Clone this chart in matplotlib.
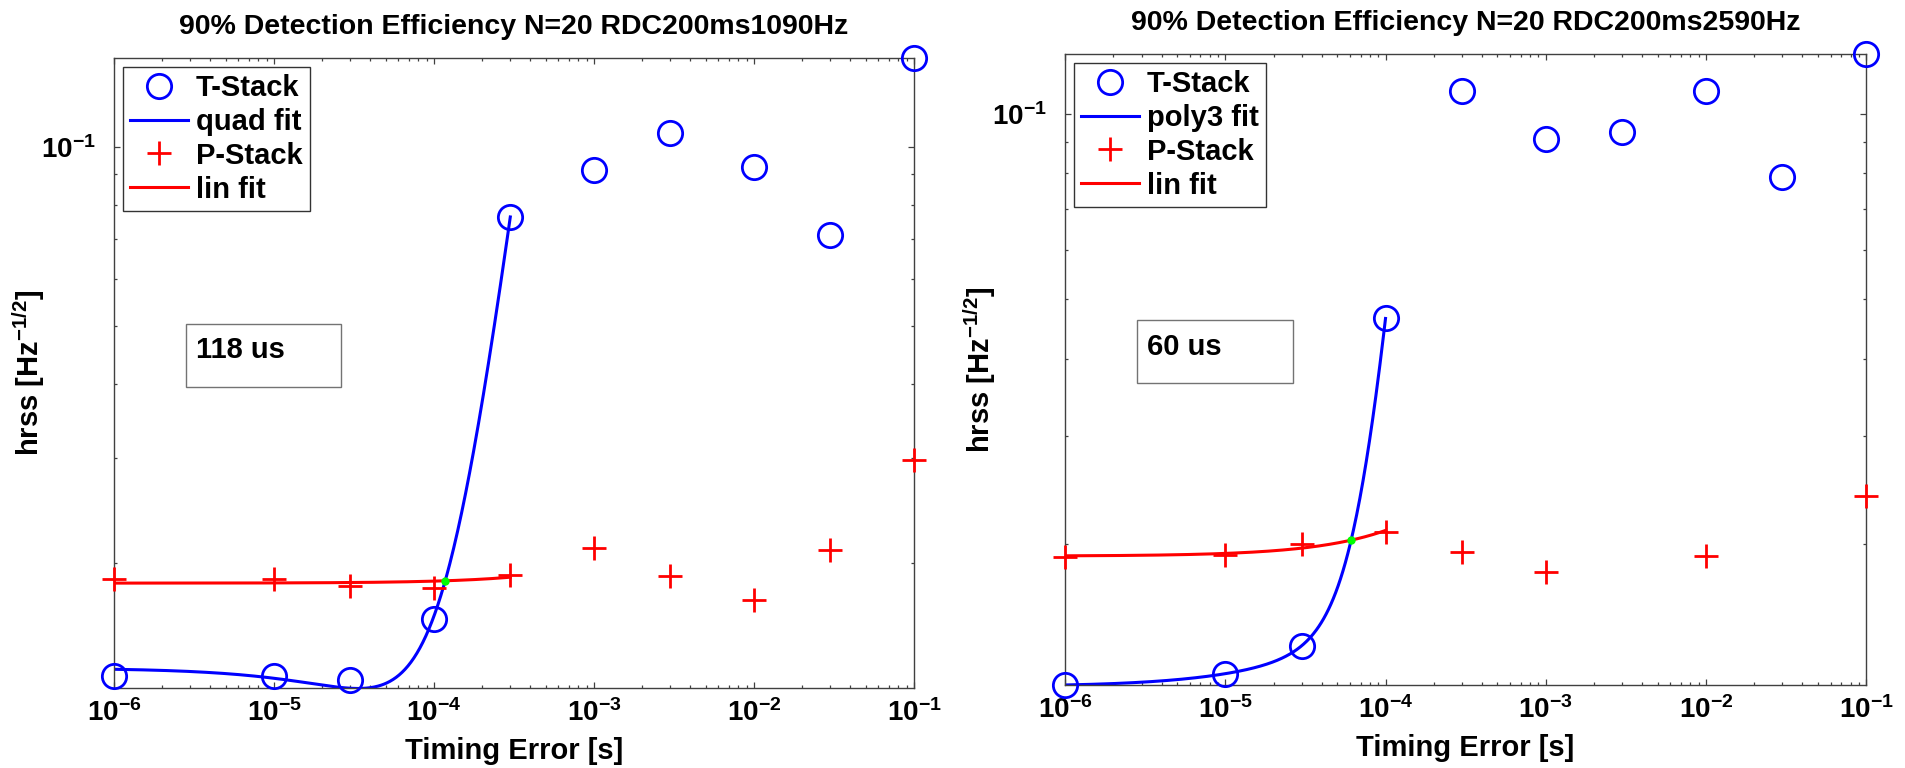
import numpy as np
import matplotlib
matplotlib.use("Agg")
import matplotlib.pyplot as plt
from matplotlib.ticker import LogLocator, NullFormatter
from matplotlib.patches import Rectangle
from numpy.polynomial import Polynomial

plt.rcParams['font.family'] = ['Liberation Sans', 'DejaVu Sans']
plt.rcParams['font.weight'] = 'bold'
plt.rcParams['mathtext.fontset'] = 'custom'
plt.rcParams['mathtext.rm'] = 'Liberation Sans:bold'
plt.rcParams['mathtext.it'] = 'Liberation Sans:bold'
plt.rcParams['mathtext.bf'] = 'Liberation Sans:bold'

# Data
timing_err = [1e-6, 1e-5, 3e-5, 1e-4, 3e-4, 1e-3, 3e-3, 1e-2, 3e-2, 1e-1]

t_stack_1090 = [0.01294, 0.01294, 0.01274, 0.01615, 0.0763, 0.0913, 0.1054, 0.0924, 0.0711, 0.141]
p_stack_1090 = [0.01883, 0.01883, 0.01830, 0.01820, 0.01914, 0.02125, 0.01904, 0.01735, 0.02105, 0.02988]

t_stack_2590 = [0.01183, 0.01234, 0.01370, 0.04653, 0.1090, 0.0911, 0.0933, 0.1090, 0.0788, 0.1250]
p_stack_2590 = [0.01905, 0.01922, 0.02005, 0.02099, 0.01943, 0.01803, np.nan, 0.01915, np.nan, 0.02394]

titles = ["90% Detection Efficiency N=20 RDC200ms1090Hz",
          "90% Detection Efficiency N=20 RDC200ms2590Hz"]
fit_labels = ["quad fit", "poly3 fit"]
fit_degrees = [2, 3]
fit_points = [5, 4]
cross_texts = ["118 us", "60 us"]
ylims = [(0.01236, 0.141), (0.01183, 0.125)]

x_ticks = [1e-6, 1e-5, 1e-4, 1e-3, 1e-2, 1e-1]
x_ticklabels = ['$10^{-6}$', '$10^{-5}$', '$10^{-4}$', '$10^{-3}$', '$10^{-2}$', '$10^{-1}$']

fig = plt.figure(figsize=(19.06, 7.68), dpi=100)
positions = [[0.0598, 0.1042, 0.4197, 0.8203],
             [0.5588, 0.1081, 0.4203, 0.8216]]

panels = [(t_stack_1090, p_stack_1090), (t_stack_2590, p_stack_2590)]

for i, (tdata, pdata) in enumerate(panels):
    ax = fig.add_axes(positions[i])
    x = np.array(timing_err)
    t = np.array(tdata)
    p = np.array(pdata)
    n = fit_points[i]

    tfit = Polynomial.fit(x[:n], t[:n], fit_degrees[i])
    pfit = Polynomial.fit(x[:n], p[:n], 1)
    xs = np.logspace(np.log10(x[0]), np.log10(x[n - 1]), 400)

    ax.plot(x, t, 'o', ms=17.5, mfc='none', mec='b', mew=2, clip_on=False,
            label='T-Stack', zorder=3)
    ax.plot(xs, tfit(xs), '-', color='b', lw=2.2, label=fit_labels[i])
    ax.plot(x, p, '+', ms=17, mec='r', mew=2, clip_on=False,
            label='P-Stack', zorder=3)
    ax.plot(xs, pfit(xs), '-', color='r', lw=2.2, label='lin fit')

    # crossing of the two fits
    roots = (tfit - pfit).roots()
    roots = roots[np.isreal(roots)].real
    roots = roots[(roots > x[1]) & (roots < x[n - 1])]
    if len(roots):
        xc = roots[0]
        ax.plot([xc], [pfit(xc)], 'o', ms=5, color=(0, 1, 0), mec=(0, 1, 0), zorder=4)

    ax.set_xscale('log')
    ax.set_yscale('log')
    ax.set_xlim(1e-6, 1e-1)
    ax.set_ylim(*ylims[i])

    ax.set_xticks(x_ticks, labels=x_ticklabels)
    ax.xaxis.set_minor_locator(LogLocator(base=10, subs=np.arange(2, 10)))
    ax.xaxis.set_minor_formatter(NullFormatter())
    ax.set_yticks([0.1], labels=['$10^{-1}$'])
    ax.yaxis.set_minor_locator(LogLocator(base=10, subs=np.arange(2, 10)))
    ax.yaxis.set_minor_formatter(NullFormatter())

    ax.tick_params(which='both', direction='in', top=True, right=True,
                   color='0.25', width=0.9, labelsize=20)
    ax.tick_params(which='major', length=4.5)
    ax.tick_params(which='minor', length=2.5)
    ax.tick_params(axis='x', pad=8)
    ax.tick_params(axis='y', pad=13)
    for s in ax.spines.values():
        s.set_color('0.25')
        s.set_linewidth(1.0)

    ax.set_title(titles[i], fontsize=20.5, fontweight='bold', pad=17)
    ax.set_xlabel('Timing Error [s]', fontsize=21, fontweight='bold')
    ax.set_ylabel('hrss [Hz$^{-1/2}$]', fontsize=21, fontweight='bold')
    ax.xaxis.set_label_coords(0.5, -0.078)
    ax.yaxis.set_label_coords(-0.084, 0.5)

    leg = ax.legend(loc='upper left', fontsize=21, frameon=True, fancybox=False,
                    edgecolor='0.2', framealpha=1, handlelength=2.0,
                    handletextpad=0.25, labelspacing=0.2, borderpad=0.25,
                    borderaxespad=0.3, markerscale=1.0)
    leg.get_frame().set_linewidth(1.0)

    ax.add_patch(Rectangle((0.09, 0.478), 0.194, 0.10, transform=ax.transAxes,
                           facecolor='white', edgecolor='0.45', lw=1.0, zorder=5))
    ax.text(0.1025, 0.536, cross_texts[i], transform=ax.transAxes, fontsize=21,
            fontweight='bold', va='center', ha='left', zorder=6)

fig.savefig('out.png', dpi=100)
